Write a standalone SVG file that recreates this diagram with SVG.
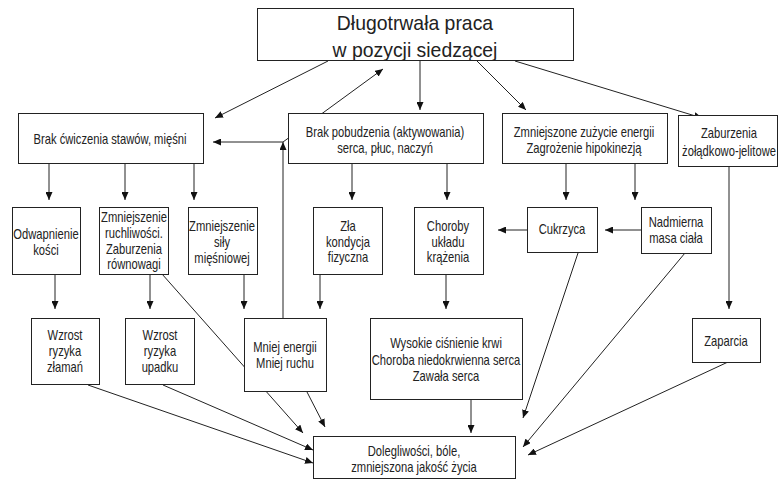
<svg xmlns="http://www.w3.org/2000/svg" width="779" height="480" viewBox="0 0 779 480">
<defs>
<marker id="ah" viewBox="0 0 8 7" refX="8" refY="3.5" markerWidth="8" markerHeight="7" markerUnits="userSpaceOnUse" orient="auto">
<path d="M0,0 L8,3.5 L0,7 z" fill="#111"/>
</marker>
<style>
rect{fill:#fff;stroke:#222;stroke-width:1}
text{font-family:"Liberation Sans",Arial,sans-serif;font-size:14px;fill:#222;text-anchor:middle}
.t{font-size:20px}
#conn line,#conn polyline{stroke:#222;stroke-width:1;fill:none}
.a{marker-end:url(#ah)}
</style>
</defs>
<rect x="0" y="0" width="779" height="480" style="fill:#fff;stroke:none"/>
<g id="conn">
<line class="a" x1="328" y1="61" x2="215" y2="118"/>
<line class="a" x1="283" y1="318" x2="283" y2="142"/>
<line class="a" x1="283" y1="142" x2="213" y2="142"/>
<line class="a" x1="283" y1="142" x2="383" y2="69"/>
<line class="a" x1="420" y1="61" x2="420" y2="110"/>
<line class="a" x1="477" y1="61" x2="526" y2="110"/>
<line class="a" x1="515" y1="61" x2="702" y2="118"/>
<line class="a" x1="49" y1="163" x2="49" y2="200"/>
<line class="a" x1="125" y1="163" x2="125" y2="200"/>
<line class="a" x1="194" y1="163" x2="194" y2="200"/>
<line class="a" x1="352" y1="163" x2="352" y2="200"/>
<line class="a" x1="447" y1="163" x2="447" y2="200"/>
<line class="a" x1="566" y1="163" x2="566" y2="200"/>
<line class="a" x1="635" y1="163" x2="635" y2="200"/>
<line class="a" x1="527" y1="230" x2="498" y2="230"/>
<line class="a" x1="641" y1="230" x2="605" y2="230"/>
<line class="a" x1="729" y1="166" x2="729" y2="309"/>
<line class="a" x1="55" y1="274" x2="55" y2="309"/>
<line class="a" x1="150" y1="274" x2="150" y2="309"/>
<line class="a" x1="244" y1="274" x2="244" y2="309"/>
<line class="a" x1="320" y1="274" x2="320" y2="309"/>
<line class="a" x1="446" y1="274" x2="446" y2="309"/>
<line class="a" x1="162" y1="274" x2="303" y2="433"/>
<line class="a" x1="307" y1="392" x2="325" y2="427"/>
<line class="a" x1="163" y1="385" x2="313" y2="450"/>
<line class="a" x1="88" y1="385" x2="313" y2="463"/>
<line class="a" x1="471" y1="399" x2="471" y2="433"/>
<line class="a" x1="578" y1="253" x2="523" y2="418"/>
<line class="a" x1="685" y1="253" x2="523" y2="447"/>
<line class="a" x1="728" y1="362" x2="528" y2="455"/>
</g>
<g id="n-top">
<rect x="257.5" y="8.5" width="316" height="52"/>
<text class="t" transform="translate(415,0) scale(0.97,1)"><tspan x="0" y="30">Długotrwała praca</tspan><tspan x="0" y="57">w pozycji siedzącej</tspan></text>
</g>
<g id="n-brak-cw">
<rect x="18.5" y="113.5" width="185" height="50"/>
<text transform="translate(110,0) scale(0.8,1)"><tspan x="0" y="144">Brak ćwiczenia stawów, mięśni</tspan></text>
</g>
<g id="n-brak-pob">
<rect x="288.5" y="113.5" width="195" height="50"/>
<text transform="translate(385,0) scale(0.8,1)"><tspan x="0" y="137">Brak pobudzenia (aktywowania)</tspan><tspan x="0" y="153">serca, płuc, naczyń</tspan></text>
</g>
<g id="n-zmn-zuz">
<rect x="502.5" y="113.5" width="165" height="50"/>
<text transform="translate(584,0) scale(0.8,1)"><tspan x="0" y="137">Zmniejszone zużycie energii</tspan><tspan x="0" y="153">Zagrożenie hipokinezją</tspan></text>
</g>
<g id="n-zab-zol">
<rect x="678.5" y="115.5" width="99" height="51"/>
<text transform="translate(729,0) scale(0.8,1)"><tspan x="0" y="138">Zaburzenia</tspan><tspan x="0" y="156">żołądkowo-jelitowe</tspan></text>
</g>
<g id="n-odwap">
<rect x="12.5" y="207.5" width="68" height="67"/>
<text transform="translate(46,0) scale(0.8,1)"><tspan x="0" y="239">Odwapnienie</tspan><tspan x="0" y="255">kości</tspan></text>
</g>
<g id="n-ruch">
<rect x="99.5" y="207.5" width="69" height="67"/>
<text transform="translate(134,0) scale(0.8,1)"><tspan x="0" y="222">Zmniejszenie</tspan><tspan x="0" y="238">ruchliwości.</tspan><tspan x="0" y="254">Zaburzenia</tspan><tspan x="0" y="269">równowagi</tspan></text>
</g>
<g id="n-sily">
<rect x="188.5" y="207.5" width="69" height="67"/>
<text transform="translate(222,0) scale(0.8,1)"><tspan x="0" y="231">Zmniejszenie</tspan><tspan x="0" y="247">siły</tspan><tspan x="0" y="263">mięśniowej</tspan></text>
</g>
<g id="n-kond">
<rect x="313.5" y="207.5" width="69" height="67"/>
<text transform="translate(348,0) scale(0.8,1)"><tspan x="0" y="231">Zła</tspan><tspan x="0" y="247">kondycja</tspan><tspan x="0" y="262">fizyczna</tspan></text>
</g>
<g id="n-chor">
<rect x="414.5" y="207.5" width="69" height="67"/>
<text transform="translate(448,0) scale(0.8,1)"><tspan x="0" y="231">Choroby</tspan><tspan x="0" y="247">układu</tspan><tspan x="0" y="262">krążenia</tspan></text>
</g>
<g id="n-cukr">
<rect x="527.5" y="207.5" width="70" height="45"/>
<text transform="translate(562,0) scale(0.8,1)"><tspan x="0" y="234">Cukrzyca</tspan></text>
</g>
<g id="n-nadm">
<rect x="641.5" y="207.5" width="70" height="46"/>
<text transform="translate(676,0) scale(0.8,1)"><tspan x="0" y="227">Nadmierna</tspan><tspan x="0" y="243">masa ciała</tspan></text>
</g>
<g id="n-zlam">
<rect x="31.5" y="318.5" width="68" height="66"/>
<text transform="translate(65,0) scale(0.8,1)"><tspan x="0" y="340">Wzrost</tspan><tspan x="0" y="356">ryzyka</tspan><tspan x="0" y="372">złamań</tspan></text>
</g>
<g id="n-upad">
<rect x="125.5" y="318.5" width="69" height="66"/>
<text transform="translate(160,0) scale(0.8,1)"><tspan x="0" y="340">Wzrost</tspan><tspan x="0" y="356">ryzyka</tspan><tspan x="0" y="372">upadku</tspan></text>
</g>
<g id="n-mniej">
<rect x="244.5" y="318.5" width="82" height="73"/>
<text transform="translate(285,0) scale(0.8,1)"><tspan x="0" y="352">Mniej energii</tspan><tspan x="0" y="368">Mniej ruchu</tspan></text>
</g>
<g id="n-wys">
<rect x="370.5" y="318.5" width="152" height="81"/>
<text transform="translate(446,0) scale(0.8,1)"><tspan x="0" y="348">Wysokie ciśnienie krwi</tspan><tspan x="0" y="365">Choroba niedokrwienna serca</tspan><tspan x="0" y="381">Zawała serca</tspan></text>
</g>
<g id="n-zapar">
<rect x="692.5" y="318.5" width="68" height="44"/>
<text transform="translate(726,0) scale(0.8,1)"><tspan x="0" y="346">Zaparcia</tspan></text>
</g>
<g id="n-doleg">
<rect x="313.5" y="436.5" width="202" height="42"/>
<text transform="translate(414,0) scale(0.8,1)"><tspan x="0" y="456">Dolegliwości, bóle,</tspan><tspan x="0" y="472">zmniejszona jakość życia</tspan></text>
</g>
</svg>
